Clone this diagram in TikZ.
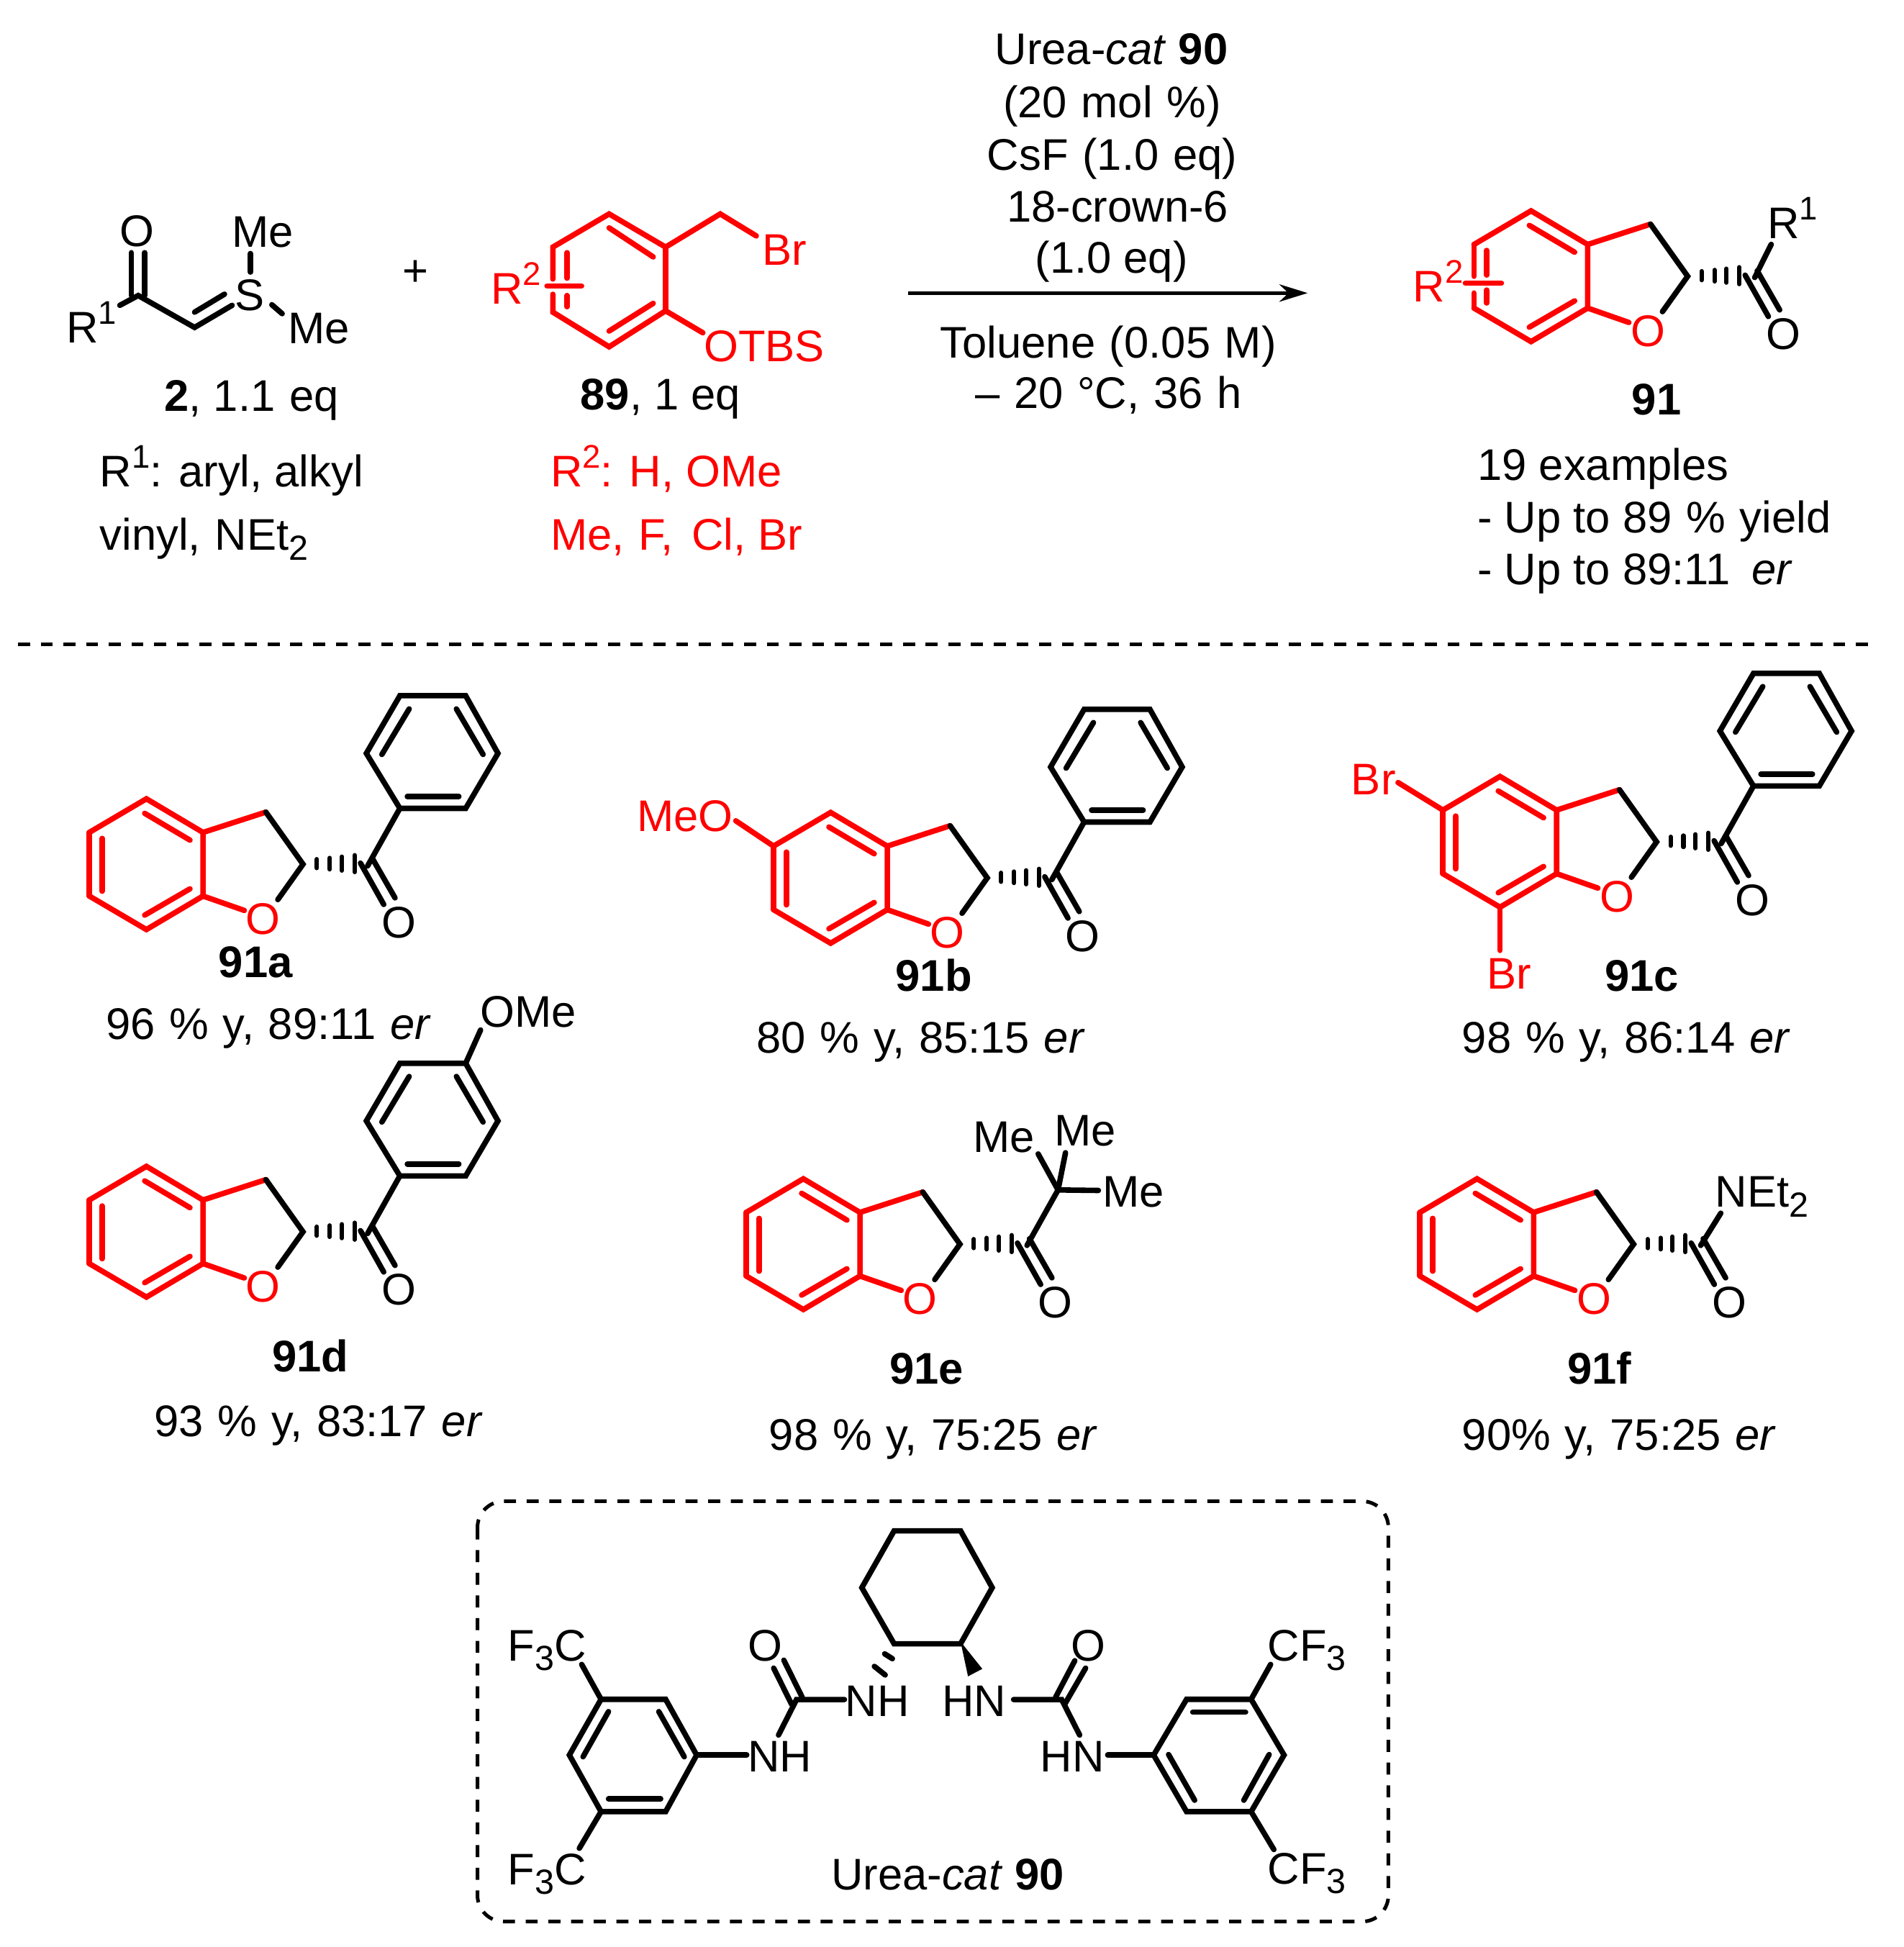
\documentclass[tikz,border=0pt]{standalone}
\usepackage{fontspec}
\setmainfont{Liberation Sans}
\usetikzlibrary{arrows.meta}
\definecolor{chemred}{RGB}{255,0,0}
\newcommand{\supr}[1]{\raisebox{0.42em}{\fontsize{15}{15}\selectfont #1}}
\newcommand{\subr}[1]{\raisebox{-0.22em}{\fontsize{16}{16}\selectfont #1}}
\newcommand{\wsp}{\hspace{0.32em}}
\tikzset{
  x=0.02cm,y=-0.02cm,
  lbl/.style={font=\fontsize{20.3}{24}\selectfont,inner sep=0pt,text=black},
  lw/.style={lbl,anchor=base west},
  lc/.style={lbl,anchor=base},
  atom/.style={lbl,anchor=center},
  redtxt/.style={text=chemred},
  bond/.style={line width=2.5pt,line cap=round,line join=miter,draw=black},
  redbond/.style={bond,draw=chemred},
  hashbar/.style={line width=2pt,line cap=round,draw=black},
  dashline/.style={line width=1.65pt,draw=black,dash pattern=on 5.5pt off 4.9pt},
  rxnarrow/.style={line width=1.5pt,draw=black,-{Stealth[length=13pt,width=8pt]}},
}
% dihydrobenzofuran core (all but the left-hand bond of the benzene ring), placed for 91a
\newcommand{\core}[1]{%
  \draw[redbond] (71.9,670.4) -- (117.9,643.3) -- (163.5,670.4) -- (163.5,721.6) -- (117.9,748.6) -- (71.9,721.6);
  \draw[redbond] (116.5,655) -- (153,676.6);
  \draw[redbond] (153,715.8) -- (116.5,737);
  \draw[redbond] (163.5,670.4) -- (214.1,654);
  \draw[redbond] (163.5,721.6) -- (196.7,733.2);
  \draw[bond] (214.1,654) -- (244,696) -- (223.7,724.5);
  \node[atom,redtxt] (#1-O) at (212,740) {O};
  \foreach \hx/\hh in {255.2/3.6,265.6/4.6,275.3/5.6,285.6/6.8}
    \draw[hashbar] (\hx,695.5-\hh) -- (\hx,695.5+\hh);
  \draw[bond] (290.3,695.1) -- (309,728.4);
  \draw[bond] (300,691.6) -- (318.1,723.1);
  \node[atom] (#1-Oc) at (321,742.8) {O};
}
\newcommand{\leftdouble}{%
  \draw[redbond] (71.9,670.4) -- (71.9,721.6);
  \draw[redbond] (82.2,675.2) -- (82.2,717.7);
}
\newcommand{\phenyl}{%
  \draw[bond] (296,697.4) -- (322,651);
  \draw[bond] (322,651) -- (375,651) -- (401,606.7) -- (375,560.3) -- (322,560.3) -- (295,606.7) -- cycle;
  \draw[bond] (328,641.4) -- (369.5,641.4);
  \draw[bond] (329.5,570.9) -- (307.5,607.6);
  \draw[bond] (367.5,570.9) -- (389,607.6);
}
\begin{document}
\begin{tikzpicture}
\useasboundingbox (0,0) rectangle (1533,1568);
\fill[white] (0,0) rectangle (1533,1568);

% ---------- reagent 2
\draw[bond] (105.7,203.5) -- (105.7,238) (116.5,203.5) -- (116.5,238);
\draw[bond] (96.5,245.9) -- (111.3,238) -- (156.7,263.7) -- (186.9,245.9);
\draw[bond] (156.7,251.4) -- (180.8,236.9);
\draw[bond] (201.7,204.2) -- (201.7,219.1);
\draw[bond] (218.9,245.4) -- (227.2,252.6);
\node[atom] (o2) at (110.5,186) {O};
\node[atom] (s2) at (201,238) {S};
\node[atom] (me2a) at (211.5,186.8) {Me};
\node[atom] (me2b) at (256.8,264.8) {Me};
\node[lw] (r2) at (53,276) {R\supr{1}};
\node[lw] (l2) at (132,331) {\textbf{2}, 1.1\wsp eq};
\node[lw] (l2b) at (80,392) {R\supr{1}: aryl, alkyl};
\node[lw] (l2c) at (80,443) {vinyl,\wsp NEt\subr{2}};
\node[atom] (plus) at (334.5,220) {+};

% ---------- reagent 89
\draw[redbond] (445.2,224.7) -- (445.2,199) -- (490.5,172.3) -- (536,199) -- (536,250.3) -- (490.5,279.3) -- (445.2,251.4) -- (445.2,237);
\draw[redbond] (456.7,203.5) -- (456.7,224);
\draw[redbond] (456.7,238) -- (456.7,247);
\draw[redbond] (490.5,183.5) -- (526,206.9);
\draw[redbond] (526,244.3) -- (490.5,266.6);
\draw[redbond] (440.5,230.3) -- (468.3,230.3);
\draw[redbond] (536,199) -- (580,172.3) -- (609,190);
\draw[redbond] (536,250.3) -- (566,268);
\node[atom,redtxt] (br89) at (632,201) {Br};
\node[atom,redtxt] (otbs) at (615.5,279) {OTBS};
\node[lw,redtxt] (r89) at (395,245) {R\supr{2}};
\node[lw] (l89) at (467,330) {\textbf{89}, 1 eq};
\node[lw,redtxt] (l89b) at (443,392) {R\supr{2}: H, OMe};
\node[lw,redtxt] (l89c) at (443,443) {Me,\wsp F,\hspace{0.42em}Cl, Br};

% ---------- conditions
\node[lc] (c1) at (895,52) {Urea-\textit{cat} \textbf{90}};
\node[lc] (c2) at (895.5,95) {(20\wsp mol\wsp \%)};
\node[lc] (c3) at (895.5,137) {CsF\wsp (1.0\wsp eq)};
\node[lc] (c4) at (900,179) {18-crown-6};
\node[lc] (c5) at (895,220) {(1.0 eq)};
\node[lc] (c6) at (892.5,288) {Toluene\wsp (0.05\wsp M)};
\node[lc] (c7) at (892.5,329) {–\wsp 20\wsp °C,\wsp 36\wsp h};
\coordinate (arS) at (731,236);
\coordinate (arE) at (1053,236);
\draw[rxnarrow] (arS) -- (arE);

% ---------- product 91
\begin{scope}[shift={(1115,-473.5)}]
  \core{p}
  \draw[redbond] (71.9,670.4) -- (71.9,696);
  \draw[redbond] (71.9,709.5) -- (71.9,721.6);
  \draw[redbond] (82.2,675.2) -- (82.2,695);
  \draw[redbond] (82.2,707.1) -- (82.2,717.5);
  \draw[redbond] (65,701.5) -- (94,701.5);
  \draw[bond] (298,697) -- (311.3,670.3);
\end{scope}
\node[lw] (r91t) at (1423,192) {R\supr{1}};
\node[lw,redtxt] (r91b) at (1137.5,243) {R\supr{2}};
\node[lc] (l91) at (1334,334) {\textbf{91}};
\node[lw] (l91a) at (1189.5,387) {19 examples};
\node[lw] (l91b) at (1189.5,429) {- Up to 89\wsp \%\wsp yield};
\node[lw] (l91c) at (1189.5,471) {- Up to 89:11\hspace{0.2em} \textit{er}};

% ---------- separator
\coordinate (sepL) at (14.5,519);
\coordinate (sepR) at (1511,519);
\draw[dashline] (sepL) -- (sepR);

% ---------- 91a
\begin{scope}
  \core{a}\leftdouble\phenyl
\end{scope}
\node[lc] (la) at (206,787) {\textbf{91a}};
\node[lw] (ya) at (85,837) {96\wsp \%\wsp y,\wsp 89:11\wsp \textit{er}};

% ---------- 91b
\begin{scope}[shift={(551,11)}]
  \core{b}\leftdouble\phenyl
  \draw[redbond] (71.9,670.4) -- (41.5,650);
\end{scope}
\node[atom,redtxt] (meob) at (551.5,657) {MeO};
\node[lc] (lb) at (752,798) {\textbf{91b}};
\node[lw] (yb) at (609,848) {80\wsp \%\wsp y,\wsp 85:15\wsp \textit{er}};

% ---------- 91c
\begin{scope}[shift={(1090,-18)}]
  \core{c}\leftdouble\phenyl
  \draw[redbond] (71.9,670.4) -- (35.8,648.2);
  \draw[redbond] (117.9,748.6) -- (117.9,783.4);
\end{scope}
\node[atom,redtxt] (brc1) at (1106,628) {Br};
\node[atom,redtxt] (brc2) at (1215,784) {Br};
\node[lc] (lc) at (1322,798) {\textbf{91c}};
\node[lw] (yc) at (1177,848) {98\wsp \%\wsp y,\wsp 86:14\wsp \textit{er}};

% ---------- 91d
\begin{scope}[shift={(0,296)}]
  \core{d}\leftdouble\phenyl
  \draw[bond] (375,560.3) -- (387,533.5);
\end{scope}
\node[atom] (omed) at (425.5,815) {OMe};
\node[lc] (ld) at (250,1104.5) {\textbf{91d}};
\node[lw] (yd) at (124,1157) {93\wsp \%\wsp y,\wsp 83:17\wsp \textit{er}};

% ---------- 91e
\begin{scope}[shift={(529,306)}]
  \core{e}\leftdouble
  \draw[bond] (298,697) -- (323,652.3);
  \draw[bond] (323,652.3) -- (307,623.3);
  \draw[bond] (323,652.3) -- (329,622.3);
  \draw[bond] (323,652.3) -- (355.5,652.7);
\end{scope}
\node[atom] (mee1) at (808.5,916) {Me};
\node[atom] (mee2) at (874,910.5) {Me};
\node[atom] (mee3) at (912.5,960) {Me};
\node[lc] (le) at (746,1114.5) {\textbf{91e}};
\node[lw] (ye) at (619,1168) {98\wsp \%\wsp y,\wsp 75:25\wsp \textit{er}};

% ---------- 91f
\begin{scope}[shift={(1071.5,306)}]
  \core{f}\leftdouble
  \draw[bond] (298,697) -- (314.2,671);
\end{scope}
\node[lw] (netf) at (1381,972) {NEt\subr{2}};
\node[lc] (lf) at (1288,1114.5) {\textbf{91f}};
\node[lw] (yf) at (1177,1168) {90\%\wsp y,\wsp 75:25\wsp \textit{er}};

% ---------- catalyst box
\draw[dashline,rounded corners=12] (384.5,1209) rectangle (1118,1547.5);

% cyclohexane
\draw[bond] (720,1232.8) -- (773.5,1232.8) -- (799,1278.6) -- (773.5,1323.8) -- (720,1323.8) -- (694,1278.6) -- cycle;
\fill[black] (773.5,1322) -- (779.5,1350) -- (791,1344) -- cycle;
\draw[bond] (712.4,1331.9) -- (718.6,1335.8);
\draw[bond] (704.1,1342) -- (712.8,1348.9);
\node[atom] (nh1) at (706.5,1370) {NH};
\node[atom] (hn1) at (784.5,1370) {HN};

% left urea
\draw[bond] (680,1368.7) -- (641.4,1368.7) -- (626.9,1397.3);
\draw[bond] (623,1343.4) -- (637.5,1372.6);
\draw[bond] (631.2,1337) -- (646,1366.9);
\node[atom] (ol) at (616,1325.4) {O};
\node[atom] (nh2) at (628,1414.5) {NH};
\draw[bond] (561,1413.4) -- (601.3,1413.4);

% left aryl
\draw[bond] (484,1368.5) -- (536,1368.5) -- (561,1413.4) -- (536,1459) -- (484,1459) -- (458.5,1413.4) -- cycle;
\draw[bond] (530.5,1378.4) -- (551,1414.8);
\draw[bond] (490,1378.4) -- (469.5,1414.8);
\draw[bond] (490,1448.7) -- (532,1448.7);
\draw[bond] (484,1368.5) -- (468.4,1340.4);
\draw[bond] (484,1459) -- (466.5,1488.5);
\node[lw] (f3c1) at (408.5,1337.4) {F\subr{3}C};
\node[lw] (f3c2) at (408.5,1517.8) {F\subr{3}C};

% right urea
\draw[bond] (816.2,1368.7) -- (854.9,1368.7) -- (869.4,1397.3);
\draw[bond] (865.5,1337.4) -- (850,1366.9);
\draw[bond] (874.2,1343.4) -- (857.3,1372.6);
\node[atom] (or) at (876.5,1325.4) {O};
\node[atom] (hn2) at (863.5,1414.5) {HN};
\draw[bond] (892,1413.4) -- (929,1413.4);

% right aryl
\draw[bond] (955.5,1368.5) -- (1007.5,1368.5) -- (1034,1413.4) -- (1007.5,1459) -- (955.5,1459) -- (929,1413.4) -- cycle;
\draw[bond] (960.5,1378.9) -- (1003,1378.9);
\draw[bond] (941,1413) -- (962,1449.8);
\draw[bond] (1022,1413) -- (1001.6,1449.8);
\draw[bond] (1007.5,1368.5) -- (1023.2,1340.4);
\draw[bond] (1007.5,1459) -- (1025.8,1489.5);
\node[lw] (cf31) at (1020.5,1337.4) {CF\subr{3}};
\node[lw] (cf32) at (1020.5,1517) {CF\subr{3}};

\node[lw] (catl) at (669,1522) {Urea-\textit{cat} \textbf{90}};
\end{tikzpicture}
\end{document}
